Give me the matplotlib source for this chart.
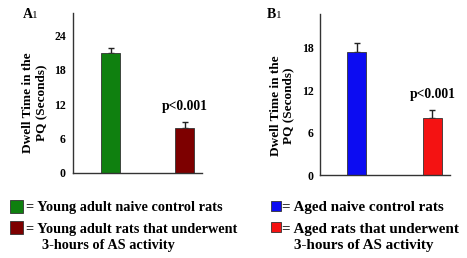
import matplotlib
matplotlib.use("Agg")
import matplotlib.pyplot as plt
from matplotlib.patches import Rectangle

# ── Data ──────────────────────────────────────────────────────────────────────
YOUNG_MEANS = [20.9, 7.85]
YOUNG_ERR   = [0.9, 1.0]
AGED_MEANS  = [17.35, 8.1]
AGED_ERR    = [1.35, 1.1]
YOUNG_TICKS = [0, 6, 12, 18, 24]
AGED_TICKS  = [0, 6, 12, 18]
P_LABEL     = "p<0.001"
YLABEL      = "Dwell Time in the\nPQ (Seconds)"

YOUNG_COLORS = ["#0f800f", "#7d0000"]
AGED_COLORS  = ["#0c0cf2", "#f41212"]
YOUNG_LEGEND = ["= Young adult naive control rats",
                "= Young adult rats that underwent",
                "3-hours of AS activity"]
AGED_LEGEND  = ["= Aged naive control rats",
                "= Aged rats that underwent",
                "3-hours of AS activity"]

W, H = 467, 258
plt.rcParams["font.family"] = ["Liberation Serif", "DejaVu Serif"]
plt.rcParams["font.weight"] = "bold"

fig = plt.figure(figsize=(W / 100, H / 100), dpi=100)


def px_axes(left, top, right, bottom):
    return fig.add_axes([left / W, 1 - bottom / H, (right - left) / W,
                         (bottom - top) / H])


def draw_panel(ax, means, errs, colors, ticks, ylim, xlim, width, p_y):
    x = [0, 1]
    ax.bar(x, means, width=width, color=colors, edgecolor="#333333",
           linewidth=0.6, zorder=2)
    ax.errorbar(x, means, yerr=[[0, 0], errs], fmt="none", ecolor="#222222",
                elinewidth=1.0, capsize=2.5, capthick=1.0, zorder=1)
    ax.set_ylim(*ylim)
    ax.set_xlim(*xlim)
    ax.set_yticks(ticks)
    ax.set_yticklabels([str(t) for t in ticks], fontsize=8.5,
                       fontweight="bold")
    ax.set_xticks([])
    ax.tick_params(axis="y", length=0, pad=5)
    for s in ["top", "right"]:
        ax.spines[s].set_visible(False)
    for s in ["left", "bottom"]:
        ax.spines[s].set_linewidth(1.0)
        ax.spines[s].set_color("#333333")
    ax.text(1, p_y, P_LABEL, ha="center", va="center", fontsize=9.8,
            fontweight="bold")


axA = px_axes(72.7, 13, 201.7, 172.7)
draw_panel(axA, YOUNG_MEANS, YOUNG_ERR, YOUNG_COLORS, YOUNG_TICKS,
           (0, 27.9), (-0.509, 1.227), 0.256, 11.5)

axB = px_axes(320.3, 14, 449.7, 175)
draw_panel(axB, AGED_MEANS, AGED_ERR, AGED_COLORS, AGED_TICKS,
           (0, 22.8), (-0.483, 1.23), 0.252, 11.4)

# y labels
fig.text(34.5 / W, 1 - 103 / H, YLABEL, rotation=90, ha="center",
         va="center", fontsize=9.5, fontweight="bold", linespacing=1.1)
fig.text(282 / W, 1 - 106 / H, YLABEL, rotation=90, ha="center",
         va="center", fontsize=9.5, fontweight="bold", linespacing=1.1)

# panel letters
fig.text(22.5 / W, 1 - 15 / H, "A", ha="left", va="center", fontsize=10,
         fontweight="bold")
fig.text(31.5 / W, 1 - 15.8 / H, "1", ha="left", va="center", fontsize=8,
         fontweight="normal")
fig.text(267 / W, 1 - 15 / H, "B", ha="left", va="center", fontsize=10,
         fontweight="bold")
fig.text(275.5 / W, 1 - 15.8 / H, "1", ha="left", va="center", fontsize=8,
         fontweight="normal")


# legends
def square(x_sq, y_c, size, color):
    fig.patches.append(Rectangle((x_sq / W, 1 - (y_c + size / 2) / H),
                                 size / W, size / H, facecolor=color,
                                 edgecolor="#333333", linewidth=0.6,
                                 transform=fig.transFigure, figure=fig))


def line(x, y_c, label, fs):
    fig.text(x / W, 1 - y_c / H, label, ha="left", va="center_baseline",
             fontsize=fs, fontweight="bold")


ROWS = [206.5, 227.5, 244]

square(10, ROWS[0], 13, YOUNG_COLORS[0])
square(10, ROWS[1], 13, YOUNG_COLORS[1])
line(26.5, ROWS[0], YOUNG_LEGEND[0], 10.3)
line(26.5, ROWS[1], YOUNG_LEGEND[1], 10.3)
line(41.5, ROWS[2], YOUNG_LEGEND[2], 10.3)

square(271, ROWS[0] - 0.5, 10, AGED_COLORS[0])
square(271, ROWS[1] - 0.5, 10, AGED_COLORS[1])
line(282, ROWS[0], AGED_LEGEND[0], 10.9)
line(282, ROWS[1], AGED_LEGEND[1], 10.9)
line(294, ROWS[2], AGED_LEGEND[2], 10.9)

fig.savefig("out.png", dpi=100)
